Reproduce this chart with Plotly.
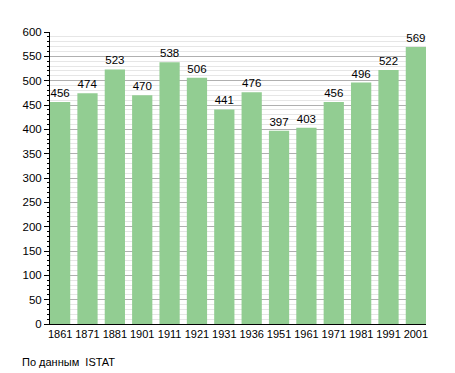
import plotly.graph_objects as go

years = ["1861", "1871", "1881", "1901", "1911", "1921", "1931", "1936",
         "1951", "1961", "1971", "1981", "1991", "2001"]
population = [456, 474, 523, 470, 538, 506, 441, 476, 397, 403, 456, 496, 522, 569]
y_ticks = list(range(0, 601, 50))

font = "Liberation Sans, Arial, sans-serif"

fig = go.Figure(go.Bar(
    x=list(range(len(years))),
    y=population,
    marker=dict(color="rgb(146,205,146)", line=dict(width=0)),
    text=[str(v) for v in population],
    textposition="outside",
    textfont=dict(family=font, size=11.5, color="black"),
    cliponaxis=False,
))

fig.update_layout(
    width=447, height=365,
    margin=dict(l=42, r=29, t=24, b=49),
    paper_bgcolor="white", plot_bgcolor="white",
    bargap=0.26,
    showlegend=False,
    font=dict(family=font, size=11, color="black"),
    annotations=[dict(text="По данным  ISTAT", xref="paper", yref="paper",
                      x=-0.08, y=-0.13, xanchor="left", yanchor="middle",
                      showarrow=False, font=dict(family=font, size=11))],
)
fig.update_xaxes(
    range=[-0.37, len(years) - 1 + 0.37],
    tickmode="array", tickvals=list(range(len(years))), ticktext=years,
    showgrid=False, showline=True, linecolor="black", linewidth=1,
    ticks="", tickangle=0, tickfont=dict(family=font, size=11),
)
fig.update_yaxes(
    range=[0, 600],
    tickmode="array", tickvals=y_ticks,
    showgrid=True, gridcolor="#b0b0b0", gridwidth=1,
    showline=True, linecolor="black", linewidth=1,
    ticks="outside", ticklen=5, tickcolor="black",
    minor=dict(dtick=10, ticks="outside", ticklen=2, tickcolor="black",
               showgrid=True, gridcolor="#e6e6e6", gridwidth=1),
    zeroline=False,
    tickfont=dict(family=font, size=11.5),
)

fig.write_html("out.html")
